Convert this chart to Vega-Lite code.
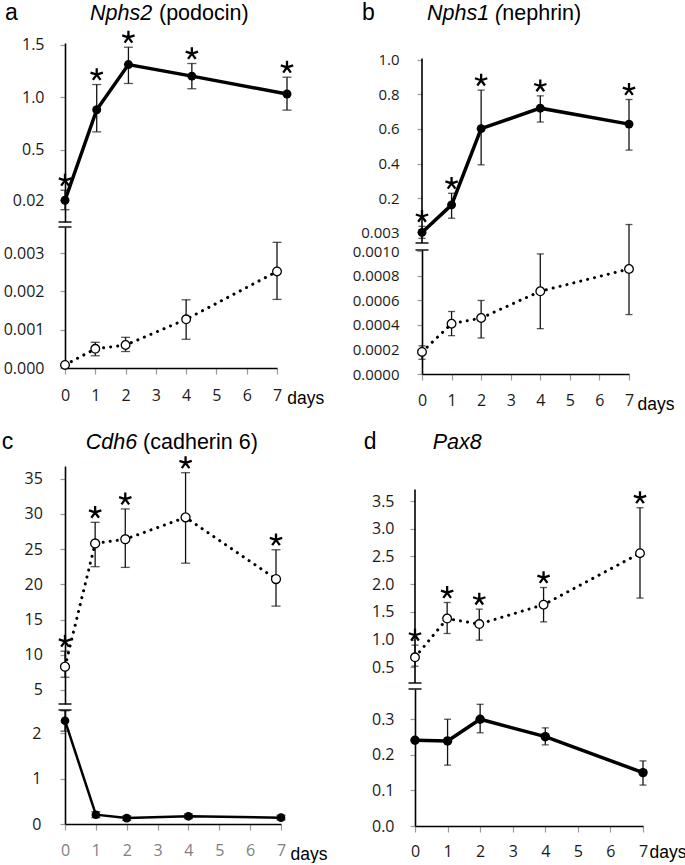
{
"$schema": "https://vega.github.io/schema/vega-lite/v6.json",
"padding": {"left": 1, "top": 2, "right": 0, "bottom": 0},
"config": {
 "view": {"stroke": null},
 "axis": {"grid": false, "labelFont": "Open Sans", "labelFontSize": 16, "labelColor": "#1a1a1a", "domainColor": "#000", "domainWidth": 1.6, "tickColor": "#9a9a9a", "tickWidth": 1.2, "tickSize": 5, "labelOverlap": false, "titleFont": "Liberation Sans", "titleFontSize": 17.5, "titleFontWeight": "normal", "titleColor": "#000"},
 "axisX": {"tickSize": 6, "labelBaseline": "alphabetic", "labelFlush": false},
 "axisY": {"labelBaseline": "middle"}
},
"datasets": {"d": [
 {"p":"aU","day":0,"mean":0.02,"lo":-0.07,"hi":0.115,"sig":true},
 {"p":"aU","day":1,"mean":0.88,"lo":0.67,"hi":1.12,"sig":true},
 {"p":"aU","day":2,"mean":1.31,"lo":1.13,"hi":1.475,"sig":true},
 {"p":"aU","day":4,"mean":1.2,"lo":1.08,"hi":1.32,"sig":true},
 {"p":"aU","day":7,"mean":1.03,"lo":0.877,"hi":1.19,"sig":true},
 {"p":"aL","day":0,"mean":0.00008,"lo":0.00008,"hi":0.00008,"sig":false},
 {"p":"aL","day":1,"mean":0.0005,"lo":0.00032,"hi":0.00067,"sig":false},
 {"p":"aL","day":2,"mean":0.0006,"lo":0.00043,"hi":0.0008,"sig":false},
 {"p":"aL","day":4,"mean":0.00127,"lo":0.00075,"hi":0.00178,"sig":false},
 {"p":"aL","day":7,"mean":0.00252,"lo":0.00179,"hi":0.00328,"sig":false},
 {"p":"bU","day":0,"mean":0.003,"lo":-0.031,"hi":0.038,"sig":true},
 {"p":"bU","day":1,"mean":0.162,"lo":0.085,"hi":0.229,"sig":true},
 {"p":"bU","day":2,"mean":0.602,"lo":0.393,"hi":0.824,"sig":true},
 {"p":"bU","day":4,"mean":0.72,"lo":0.64,"hi":0.791,"sig":true},
 {"p":"bU","day":7,"mean":0.628,"lo":0.478,"hi":0.77,"sig":true},
 {"p":"bL","day":0,"mean":0.00018,"lo":0.00012,"hi":0.00023,"sig":false},
 {"p":"bL","day":1,"mean":0.00041,"lo":0.000313,"hi":0.00051,"sig":false},
 {"p":"bL","day":2,"mean":0.000457,"lo":0.000294,"hi":0.0006,"sig":false},
 {"p":"bL","day":4,"mean":0.000675,"lo":0.00037,"hi":0.00098,"sig":false},
 {"p":"bL","day":7,"mean":0.000857,"lo":0.000485,"hi":0.00122,"sig":false},
 {"p":"cU","day":0,"mean":8.3,"lo":6.8,"hi":10.5,"sig":true},
 {"p":"cU","day":1,"mean":25.8,"lo":22.5,"hi":28.8,"sig":true},
 {"p":"cU","day":2,"mean":26.4,"lo":22.4,"hi":30.7,"sig":true},
 {"p":"cU","day":4,"mean":29.5,"lo":23.0,"hi":35.85,"sig":true},
 {"p":"cU","day":7,"mean":20.75,"lo":16.9,"hi":24.9,"sig":true},
 {"p":"cL","day":0,"mean":2.28,"lo":2.05,"hi":2.5,"sig":false},
 {"p":"cL","day":1,"mean":0.205,"lo":0.14,"hi":0.27,"sig":false},
 {"p":"cL","day":2,"mean":0.13,"lo":0.08,"hi":0.18,"sig":false},
 {"p":"cL","day":4,"mean":0.17,"lo":0.12,"hi":0.22,"sig":false},
 {"p":"cL","day":7,"mean":0.14,"lo":0.09,"hi":0.19,"sig":false},
 {"p":"dU","day":0,"mean":0.68,"lo":0.52,"hi":0.9,"sig":true},
 {"p":"dU","day":1,"mean":1.38,"lo":1.11,"hi":1.67,"sig":true},
 {"p":"dU","day":2,"mean":1.28,"lo":0.99,"hi":1.55,"sig":true},
 {"p":"dU","day":4,"mean":1.63,"lo":1.32,"hi":1.94,"sig":true},
 {"p":"dU","day":7,"mean":2.56,"lo":1.75,"hi":3.38,"sig":true},
 {"p":"dL","day":0,"mean":0.241,"lo":0.241,"hi":0.241,"sig":false},
 {"p":"dL","day":1,"mean":0.239,"lo":0.171,"hi":0.3,"sig":false},
 {"p":"dL","day":2,"mean":0.3,"lo":0.262,"hi":0.342,"sig":false},
 {"p":"dL","day":4,"mean":0.251,"lo":0.228,"hi":0.276,"sig":false},
 {"p":"dL","day":7,"mean":0.15,"lo":0.115,"hi":0.183,"sig":false}
]},
"spacing": 18,
"vconcat": [
{"hconcat": [
 {"vconcat": [
  {"width": 222, "height": 179, "data": {"name": "d"}, "transform": [{"filter": "datum.p==='aU'"}],
   "resolve": {"axis": {"x": "independent", "y": "independent"}},
   "layer": [
    {"mark": {"type": "rule", "strokeWidth": 1.3, "color": "#111"}, "encoding": {"x": {"field": "day", "type": "quantitative", "axis": null}, "y": {"field": "lo", "type": "quantitative", "axis": null}, "y2": {"field": "hi"}}},
    {"mark": {"type": "tick", "orient": "horizontal", "size": 9, "thickness": 1.3, "color": "#111"}, "encoding": {"x": {"field": "day", "type": "quantitative", "axis": null}, "y": {"field": "lo", "type": "quantitative", "axis": null}}},
    {"mark": {"type": "tick", "orient": "horizontal", "size": 9, "thickness": 1.3, "color": "#111"}, "encoding": {"x": {"field": "day", "type": "quantitative", "axis": null}, "y": {"field": "hi", "type": "quantitative", "axis": null}}},
    {"mark": {"type": "line", "color": "#000", "strokeWidth": 3.5}, "encoding": {"x": {"field": "day", "type": "quantitative", "scale": {"domain": [0, 7], "nice": false, "zero": false}, "axis": null}, "y": {"field": "mean", "type": "quantitative", "scale": {"domain": [-0.187, 1.515], "nice": false, "zero": false}, "axis": {"title": null, "labelOverlap": false, "values": [0.02, 0.5, 1, 1.5], "labelExpr": "datum.value < 0.1 ? '0.02' : format(datum.value, '.1f')", "labelPadding": 16}}}},
    {"mark": {"type": "point", "shape": "circle", "filled": true, "color": "#000", "size": 80, "opacity": 1}, "encoding": {"x": {"field": "day", "type": "quantitative", "axis": null}, "y": {"field": "mean", "type": "quantitative", "axis": null}}},
    {"transform": [{"filter": "datum.sig"}], "mark": {"type": "point", "shape": "M0,-1.52L0,-2.52M0,-1.52L0.951,-1.829M0,-1.52L-0.951,-1.829M0,-1.52L-0.588,-0.711M0,-1.52L0.588,-0.711", "filled": false, "color": "#000", "strokeWidth": 2.3, "size": 169, "opacity": 1}, "encoding": {"x": {"field": "day", "type": "quantitative", "axis": null}, "y": {"field": "hi", "type": "quantitative", "axis": null}}},
    {"data": {"values": [{}]}, "mark": {"type": "tick", "orient": "horizontal", "size": 13, "thickness": 2, "color": "#000"}, "encoding": {"x": {"datum": 0, "type": "quantitative", "axis": null}, "y": {"datum": -0.187, "type": "quantitative", "axis": null}}},
    {"data": {"values": [{}]}, "mark": {"type": "text", "text": "a", "font": "Liberation Sans", "fontSize": 23, "align": "left", "baseline": "alphabetic", "color": "#000"}, "encoding": {"x": {"datum": -1.892, "type": "quantitative", "axis": null}, "y": {"datum": 1.731, "type": "quantitative", "axis": null}}},
    {"data": {"values": [{}]}, "mark": {"type": "text", "text": "Nphs2", "font": "Liberation Sans", "fontSize": 21.5, "fontStyle": "italic", "align": "left", "baseline": "alphabetic", "color": "#000"}, "encoding": {"x": {"datum": 0.788, "type": "quantitative", "axis": null}, "y": {"datum": 1.731, "type": "quantitative", "axis": null}}},
    {"data": {"values": [{}]}, "mark": {"type": "text", "text": "(podocin)", "font": "Liberation Sans", "fontSize": 21.5, "align": "left", "baseline": "alphabetic", "color": "#000"}, "encoding": {"x": {"datum": 2.964, "type": "quantitative", "axis": null}, "y": {"datum": 1.731, "type": "quantitative", "axis": null}}}
   ]},
  {"width": 212, "height": 141, "data": {"name": "d"}, "transform": [{"filter": "datum.p==='aL'"}],
   "resolve": {"axis": {"x": "independent", "y": "independent"}},
   "layer": [
    {"mark": {"type": "rule", "strokeWidth": 1.3, "color": "#111"}, "encoding": {"x": {"field": "day", "type": "quantitative", "axis": null}, "y": {"field": "lo", "type": "quantitative", "axis": null}, "y2": {"field": "hi"}}},
    {"mark": {"type": "tick", "orient": "horizontal", "size": 9, "thickness": 1.3, "color": "#111"}, "encoding": {"x": {"field": "day", "type": "quantitative", "axis": null}, "y": {"field": "lo", "type": "quantitative", "axis": null}}},
    {"mark": {"type": "tick", "orient": "horizontal", "size": 9, "thickness": 1.3, "color": "#111"}, "encoding": {"x": {"field": "day", "type": "quantitative", "axis": null}, "y": {"field": "hi", "type": "quantitative", "axis": null}}},
    {"mark": {"type": "line", "color": "#000", "strokeWidth": 3, "strokeDash": [0.1, 7], "strokeCap": "round"}, "encoding": {"x": {"field": "day", "type": "quantitative", "scale": {"domain": [0, 7], "nice": false, "zero": false}, "axis": {"title": "days", "labelOverlap": false, "titleX": 221.7, "titleY": 35.7, "titleAlign": "left", "titleBaseline": "alphabetic", "values": [0,1,2,3,4,5,6,7], "format": "d", "labelPadding": 26.7}}, "y": {"field": "mean", "type": "quantitative", "scale": {"domain": [0, 0.00368], "nice": false, "zero": false}, "axis": {"title": null, "labelOverlap": false, "values": [0, 0.001, 0.002, 0.003], "format": ".3f", "labelPadding": 16}}}},
    {"mark": {"type": "point", "shape": "circle", "filled": true, "fill": "#fff", "stroke": "#000", "strokeWidth": 1.3, "size": 75, "opacity": 1}, "encoding": {"x": {"field": "day", "type": "quantitative", "axis": null}, "y": {"field": "mean", "type": "quantitative", "axis": null}}},
    {"data": {"values": [{}]}, "mark": {"type": "tick", "orient": "horizontal", "size": 13, "thickness": 2, "color": "#000"}, "encoding": {"x": {"datum": 0, "type": "quantitative", "axis": null}, "y": {"datum": 0.00368, "type": "quantitative", "axis": null}}}
   ]}
 ], "spacing": 5, "bounds": "flush"},
 {"vconcat": [
  {"width": 207, "height": 200, "data": {"name": "d"}, "transform": [{"filter": "datum.p==='bU'"}],
   "resolve": {"axis": {"x": "independent", "y": "independent"}},
   "layer": [
    {"data": {"values": [{}]}, "mark": {"type": "rule", "strokeWidth": 1.6, "color": "#000"}, "encoding": {"x": {"datum": 0, "type": "quantitative", "axis": null}, "y": {"datum": -0.058, "type": "quantitative", "axis": null}, "y2": {"datum": 1.006}}},
    {"mark": {"type": "rule", "strokeWidth": 1.3, "color": "#111"}, "encoding": {"x": {"field": "day", "type": "quantitative", "axis": null}, "y": {"field": "lo", "type": "quantitative", "axis": null}, "y2": {"field": "hi"}}},
    {"mark": {"type": "tick", "orient": "horizontal", "size": 7, "thickness": 1.3, "color": "#111"}, "encoding": {"x": {"field": "day", "type": "quantitative", "axis": null}, "y": {"field": "lo", "type": "quantitative", "axis": null}}},
    {"mark": {"type": "tick", "orient": "horizontal", "size": 7, "thickness": 1.3, "color": "#111"}, "encoding": {"x": {"field": "day", "type": "quantitative", "axis": null}, "y": {"field": "hi", "type": "quantitative", "axis": null}}},
    {"mark": {"type": "line", "color": "#000", "strokeWidth": 3.5}, "encoding": {"x": {"field": "day", "type": "quantitative", "scale": {"domain": [0, 7], "nice": false, "zero": false}, "axis": null}, "y": {"field": "mean", "type": "quantitative", "scale": {"domain": [-0.058, 1.096], "nice": false, "zero": false}, "axis": {"title": null, "labelOverlap": false, "labelFontSize": 15, "domain": false, "values": [0.003, 0.2, 0.4, 0.6, 0.8, 1.0], "labelExpr": "datum.value < 0.01 ? '0.003' : format(datum.value, '.1f')", "labelPadding": 18}}}},
    {"mark": {"type": "point", "shape": "circle", "filled": true, "color": "#000", "size": 80, "opacity": 1}, "encoding": {"x": {"field": "day", "type": "quantitative", "axis": null}, "y": {"field": "mean", "type": "quantitative", "axis": null}}},
    {"transform": [{"filter": "datum.sig"}], "mark": {"type": "point", "shape": "M0,-1.52L0,-2.52M0,-1.52L0.951,-1.829M0,-1.52L-0.951,-1.829M0,-1.52L-0.588,-0.711M0,-1.52L0.588,-0.711", "filled": false, "color": "#000", "strokeWidth": 2.3, "size": 169, "opacity": 1}, "encoding": {"x": {"field": "day", "type": "quantitative", "axis": null}, "y": {"field": "hi", "type": "quantitative", "axis": null}}},
    {"data": {"values": [{}]}, "mark": {"type": "tick", "orient": "horizontal", "size": 13, "thickness": 2, "color": "#000"}, "encoding": {"x": {"datum": 0, "type": "quantitative", "axis": null}, "y": {"datum": -0.058, "type": "quantitative", "axis": null}}},
    {"data": {"values": [{}]}, "mark": {"type": "text", "text": "b", "font": "Liberation Sans", "fontSize": 23, "align": "left", "baseline": "alphabetic", "color": "#000"}, "encoding": {"x": {"datum": -2.029, "type": "quantitative", "axis": null}, "y": {"datum": 1.2271, "type": "quantitative", "axis": null}}},
    {"data": {"values": [{}]}, "mark": {"type": "text", "text": "Nphs1 (", "font": "Liberation Sans", "fontSize": 21.5, "fontStyle": "italic", "align": "left", "baseline": "alphabetic", "color": "#000"}, "encoding": {"x": {"datum": 0.169, "type": "quantitative", "axis": null}, "y": {"datum": 1.2271, "type": "quantitative", "axis": null}}},
    {"data": {"values": [{}]}, "mark": {"type": "text", "text": "nephrin)", "font": "Liberation Sans", "fontSize": 21.5, "align": "left", "baseline": "alphabetic", "color": "#000"}, "encoding": {"x": {"datum": 2.716, "type": "quantitative", "axis": null}, "y": {"datum": 1.2271, "type": "quantitative", "axis": null}}}
   ]},
  {"width": 207, "height": 124, "data": {"name": "d"}, "transform": [{"filter": "datum.p==='bL'"}],
   "resolve": {"axis": {"x": "independent", "y": "independent"}},
   "layer": [
    {"mark": {"type": "rule", "strokeWidth": 1.3, "color": "#111"}, "encoding": {"x": {"field": "day", "type": "quantitative", "axis": null}, "y": {"field": "lo", "type": "quantitative", "axis": null}, "y2": {"field": "hi"}}},
    {"mark": {"type": "tick", "orient": "horizontal", "size": 7, "thickness": 1.3, "color": "#111"}, "encoding": {"x": {"field": "day", "type": "quantitative", "axis": null}, "y": {"field": "lo", "type": "quantitative", "axis": null}}},
    {"mark": {"type": "tick", "orient": "horizontal", "size": 7, "thickness": 1.3, "color": "#111"}, "encoding": {"x": {"field": "day", "type": "quantitative", "axis": null}, "y": {"field": "hi", "type": "quantitative", "axis": null}}},
    {"mark": {"type": "line", "color": "#000", "strokeWidth": 3, "strokeDash": [0.1, 7], "strokeCap": "round"}, "encoding": {"x": {"field": "day", "type": "quantitative", "scale": {"domain": [0, 7], "nice": false, "zero": false}, "axis": {"title": "days", "labelOverlap": false, "titleX": 215, "titleY": 35.3, "titleAlign": "left", "titleBaseline": "alphabetic", "values": [0,1,2,3,4,5,6,7], "format": "d", "labelPadding": 25.3}}, "y": {"field": "mean", "type": "quantitative", "scale": {"domain": [0, 0.001012], "nice": false, "zero": false}, "axis": {"title": null, "labelOverlap": false, "labelFontSize": 15, "values": [0, 0.0002, 0.0004, 0.0006, 0.0008, 0.001], "format": ".4f", "labelPadding": 18}}}},
    {"mark": {"type": "point", "shape": "circle", "filled": true, "fill": "#fff", "stroke": "#000", "strokeWidth": 1.3, "size": 75, "opacity": 1}, "encoding": {"x": {"field": "day", "type": "quantitative", "axis": null}, "y": {"field": "mean", "type": "quantitative", "axis": null}}},
    {"data": {"values": [{}]}, "mark": {"type": "tick", "orient": "horizontal", "size": 13, "thickness": 2, "color": "#000"}, "encoding": {"x": {"datum": 0, "type": "quantitative", "axis": null}, "y": {"datum": 0.001012, "type": "quantitative", "axis": null}}}
   ]}
 ], "spacing": 7, "bounds": "flush"}
], "spacing": 28},
{"hconcat": [
 {"vconcat": [
  {"width": 211, "height": 238, "data": {"name": "d"}, "transform": [{"filter": "datum.p==='cU'"}],
   "resolve": {"axis": {"x": "independent", "y": "independent"}},
   "layer": [
    {"mark": {"type": "rule", "strokeWidth": 1.3, "color": "#111"}, "encoding": {"x": {"field": "day", "type": "quantitative", "axis": null}, "y": {"field": "lo", "type": "quantitative", "axis": null}, "y2": {"field": "hi"}}},
    {"mark": {"type": "tick", "orient": "horizontal", "size": 9, "thickness": 1.3, "color": "#111"}, "encoding": {"x": {"field": "day", "type": "quantitative", "axis": null}, "y": {"field": "lo", "type": "quantitative", "axis": null}}},
    {"mark": {"type": "tick", "orient": "horizontal", "size": 9, "thickness": 1.3, "color": "#111"}, "encoding": {"x": {"field": "day", "type": "quantitative", "axis": null}, "y": {"field": "hi", "type": "quantitative", "axis": null}}},
    {"mark": {"type": "line", "color": "#000", "strokeWidth": 3, "strokeDash": [0.1, 7], "strokeCap": "round"}, "encoding": {"x": {"field": "day", "type": "quantitative", "scale": {"domain": [0, 7], "nice": false, "zero": false}, "axis": null}, "y": {"field": "mean", "type": "quantitative", "scale": {"domain": [3.0, 36.8], "nice": false, "zero": false}, "axis": {"title": null, "labelOverlap": false, "values": [5, 10, 15, 20, 25, 30, 35], "format": "d", "labelPadding": 17.6}}}},
    {"mark": {"type": "point", "shape": "circle", "filled": true, "fill": "#fff", "stroke": "#000", "strokeWidth": 1.3, "size": 80, "opacity": 1}, "encoding": {"x": {"field": "day", "type": "quantitative", "axis": null}, "y": {"field": "mean", "type": "quantitative", "axis": null}}},
    {"transform": [{"filter": "datum.sig"}], "mark": {"type": "point", "shape": "M0,-1.52L0,-2.52M0,-1.52L0.951,-1.829M0,-1.52L-0.951,-1.829M0,-1.52L-0.588,-0.711M0,-1.52L0.588,-0.711", "filled": false, "color": "#000", "strokeWidth": 2.3, "size": 169, "opacity": 1}, "encoding": {"x": {"field": "day", "type": "quantitative", "axis": null}, "y": {"field": "hi", "type": "quantitative", "axis": null}}},
    {"data": {"values": [{}]}, "mark": {"type": "tick", "orient": "horizontal", "size": 13, "thickness": 2, "color": "#000"}, "encoding": {"x": {"datum": 0, "type": "quantitative", "axis": null}, "y": {"datum": 3.0, "type": "quantitative", "axis": null}}},
    {"data": {"values": [{}]}, "mark": {"type": "text", "text": "\u00a0c", "font": "Liberation Sans", "fontSize": 23, "align": "left", "baseline": "alphabetic", "color": "#000"}, "encoding": {"x": {"datum": -2.1, "type": "quantitative", "axis": null}, "y": {"datum": 39.21, "type": "quantitative", "axis": null}}},
    {"data": {"values": [{}]}, "mark": {"type": "text", "text": "Cdh6", "font": "Liberation Sans", "fontSize": 21.5, "fontStyle": "italic", "align": "left", "baseline": "alphabetic", "color": "#000"}, "encoding": {"x": {"datum": 0.687, "type": "quantitative", "axis": null}, "y": {"datum": 39.21, "type": "quantitative", "axis": null}}},
    {"data": {"values": [{}]}, "mark": {"type": "text", "text": "(cadherin 6)", "font": "Liberation Sans", "fontSize": 21.5, "align": "left", "baseline": "alphabetic", "color": "#000"}, "encoding": {"x": {"datum": 2.591, "type": "quantitative", "axis": null}, "y": {"datum": 39.21, "type": "quantitative", "axis": null}}}
   ]},
  {"width": 216, "height": 114, "data": {"name": "d"}, "transform": [{"filter": "datum.p==='cL'"}],
   "resolve": {"axis": {"x": "independent", "y": "independent"}},
   "layer": [
    {"mark": {"type": "rule", "strokeWidth": 1.3, "color": "#111"}, "encoding": {"x": {"field": "day", "type": "quantitative", "axis": null}, "y": {"field": "lo", "type": "quantitative", "axis": null}, "y2": {"field": "hi"}}},
    {"mark": {"type": "tick", "orient": "horizontal", "size": 9, "thickness": 1.3, "color": "#111"}, "encoding": {"x": {"field": "day", "type": "quantitative", "axis": null}, "y": {"field": "lo", "type": "quantitative", "axis": null}}},
    {"mark": {"type": "tick", "orient": "horizontal", "size": 9, "thickness": 1.3, "color": "#111"}, "encoding": {"x": {"field": "day", "type": "quantitative", "axis": null}, "y": {"field": "hi", "type": "quantitative", "axis": null}}},
    {"mark": {"type": "line", "color": "#000", "strokeWidth": 2.5}, "encoding": {"x": {"field": "day", "type": "quantitative", "scale": {"domain": [0, 7], "nice": false, "zero": false}, "axis": {"title": "days", "labelOverlap": false, "titleX": 225, "titleY": 35, "titleAlign": "left", "titleBaseline": "alphabetic", "values": [0,1,2,3,4,5,6,7], "format": "d", "labelPadding": 25.7, "labelColor": "#808080"}}, "y": {"field": "mean", "type": "quantitative", "scale": {"domain": [0, 2.517], "nice": false, "zero": false}, "axis": {"title": null, "labelOverlap": false, "values": [0, 1, 2], "format": "d", "labelPadding": 19}}}},
    {"mark": {"type": "point", "shape": "circle", "filled": true, "color": "#000", "size": 75, "opacity": 1}, "encoding": {"x": {"field": "day", "type": "quantitative", "axis": null}, "y": {"field": "mean", "type": "quantitative", "axis": null}}},
    {"data": {"values": [{}]}, "mark": {"type": "tick", "orient": "horizontal", "size": 13, "thickness": 2, "color": "#000"}, "encoding": {"x": {"datum": 0, "type": "quantitative", "axis": null}, "y": {"datum": 2.517, "type": "quantitative", "axis": null}}}
   ]}
 ], "spacing": 6, "bounds": "flush"},
 {"vconcat": [
  {"width": 225, "height": 217, "data": {"name": "d"}, "transform": [{"filter": "datum.p==='dU'"}],
   "resolve": {"axis": {"x": "independent", "y": "independent"}},
   "layer": [
    {"data": {"values": [{}]}, "mark": {"type": "rule", "strokeWidth": 1.6, "color": "#000"}, "encoding": {"x": {"datum": 0, "type": "quantitative", "axis": null}, "y": {"datum": 0.217, "type": "quantitative", "axis": null}, "y2": {"datum": 3.711}}},
    {"mark": {"type": "rule", "strokeWidth": 1.3, "color": "#111"}, "encoding": {"x": {"field": "day", "type": "quantitative", "axis": null}, "y": {"field": "lo", "type": "quantitative", "axis": null}, "y2": {"field": "hi"}}},
    {"mark": {"type": "tick", "orient": "horizontal", "size": 7, "thickness": 1.3, "color": "#111"}, "encoding": {"x": {"field": "day", "type": "quantitative", "axis": null}, "y": {"field": "lo", "type": "quantitative", "axis": null}}},
    {"mark": {"type": "tick", "orient": "horizontal", "size": 7, "thickness": 1.3, "color": "#111"}, "encoding": {"x": {"field": "day", "type": "quantitative", "axis": null}, "y": {"field": "hi", "type": "quantitative", "axis": null}}},
    {"mark": {"type": "line", "color": "#000", "strokeWidth": 3, "strokeDash": [0.1, 7], "strokeCap": "round"}, "encoding": {"x": {"field": "day", "type": "quantitative", "scale": {"domain": [0, 7], "nice": false, "zero": false}, "axis": null}, "y": {"field": "mean", "type": "quantitative", "scale": {"domain": [0.217, 4.133], "nice": false, "zero": false}, "axis": {"title": null, "labelOverlap": false, "domain": false, "values": [0.5, 1.0, 1.5, 2.0, 2.5, 3.0, 3.5], "format": ".1f", "labelPadding": 16}}}},
    {"mark": {"type": "point", "shape": "circle", "filled": true, "fill": "#fff", "stroke": "#000", "strokeWidth": 1.3, "size": 75, "opacity": 1}, "encoding": {"x": {"field": "day", "type": "quantitative", "axis": null}, "y": {"field": "mean", "type": "quantitative", "axis": null}}},
    {"transform": [{"filter": "datum.sig"}], "mark": {"type": "point", "shape": "M0,-1.52L0,-2.52M0,-1.52L0.951,-1.829M0,-1.52L-0.951,-1.829M0,-1.52L-0.588,-0.711M0,-1.52L0.588,-0.711", "filled": false, "color": "#000", "strokeWidth": 2.3, "size": 169, "opacity": 1}, "encoding": {"x": {"field": "day", "type": "quantitative", "axis": null}, "y": {"field": "hi", "type": "quantitative", "axis": null}}},
    {"data": {"values": [{}]}, "mark": {"type": "tick", "orient": "horizontal", "size": 13, "thickness": 2, "color": "#000"}, "encoding": {"x": {"datum": 0, "type": "quantitative", "axis": null}, "y": {"datum": 0.217, "type": "quantitative", "axis": null}}},
    {"data": {"values": [{}]}, "mark": {"type": "text", "text": "d", "font": "Liberation Sans", "fontSize": 23, "align": "left", "baseline": "alphabetic", "color": "#000"}, "encoding": {"x": {"datum": -1.596, "type": "quantitative", "axis": null}, "y": {"datum": 4.4395, "type": "quantitative", "axis": null}}},
    {"data": {"values": [{}]}, "mark": {"type": "text", "text": "Pax8", "font": "Liberation Sans", "fontSize": 21.5, "fontStyle": "italic", "align": "left", "baseline": "alphabetic", "color": "#000"}, "encoding": {"x": {"datum": 0.551, "type": "quantitative", "axis": null}, "y": {"datum": 4.4395, "type": "quantitative", "axis": null}}}
   ]},
  {"width": 228, "height": 137, "data": {"name": "d"}, "transform": [{"filter": "datum.p==='dL'"}],
   "resolve": {"axis": {"x": "independent", "y": "independent"}},
   "layer": [
    {"mark": {"type": "rule", "strokeWidth": 1.3, "color": "#111"}, "encoding": {"x": {"field": "day", "type": "quantitative", "axis": null}, "y": {"field": "lo", "type": "quantitative", "axis": null}, "y2": {"field": "hi"}}},
    {"mark": {"type": "tick", "orient": "horizontal", "size": 7, "thickness": 1.3, "color": "#111"}, "encoding": {"x": {"field": "day", "type": "quantitative", "axis": null}, "y": {"field": "lo", "type": "quantitative", "axis": null}}},
    {"mark": {"type": "tick", "orient": "horizontal", "size": 7, "thickness": 1.3, "color": "#111"}, "encoding": {"x": {"field": "day", "type": "quantitative", "axis": null}, "y": {"field": "hi", "type": "quantitative", "axis": null}}},
    {"mark": {"type": "line", "color": "#000", "strokeWidth": 3.5}, "encoding": {"x": {"field": "day", "type": "quantitative", "scale": {"domain": [0, 7], "nice": false, "zero": false}, "axis": {"title": "days", "labelOverlap": false, "titleX": 234, "titleY": 31, "titleAlign": "left", "titleBaseline": "alphabetic", "values": [0,1,2,3,4,5,6,7], "format": "d", "labelPadding": 24}}, "y": {"field": "mean", "type": "quantitative", "scale": {"domain": [0, 0.385], "nice": false, "zero": false}, "axis": {"title": null, "labelOverlap": false, "values": [0, 0.1, 0.2, 0.3], "format": ".1f", "labelPadding": 16}}}},
    {"mark": {"type": "point", "shape": "circle", "filled": true, "color": "#000", "size": 90, "opacity": 1}, "encoding": {"x": {"field": "day", "type": "quantitative", "axis": null}, "y": {"field": "mean", "type": "quantitative", "axis": null}}},
    {"data": {"values": [{}]}, "mark": {"type": "tick", "orient": "horizontal", "size": 13, "thickness": 2, "color": "#000"}, "encoding": {"x": {"datum": 0, "type": "quantitative", "axis": null}, "y": {"datum": 0.385, "type": "quantitative", "axis": null}}}
   ]}
 ], "spacing": 6, "bounds": "flush"}
], "spacing": 36}
]
}
